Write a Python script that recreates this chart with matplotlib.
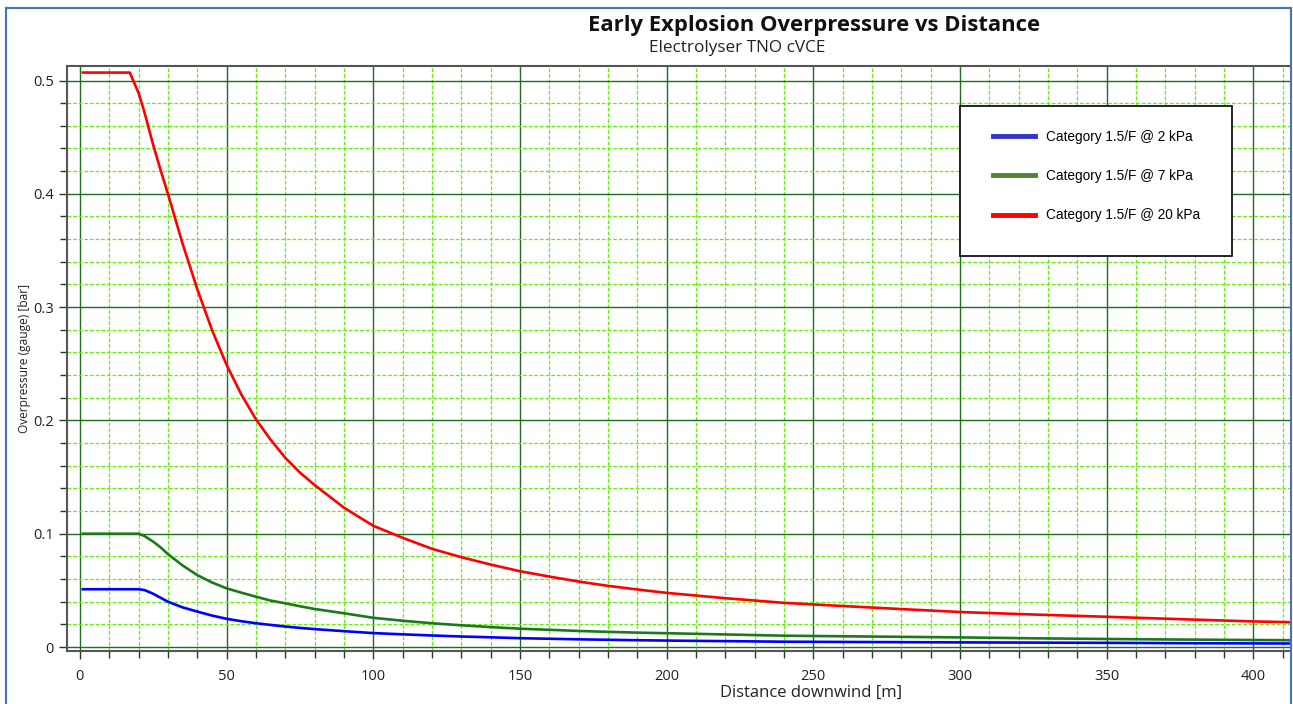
import matplotlib.pyplot as plt
from matplotlib.lines import Line2D
from matplotlib.patches import Rectangle
from matplotlib.ticker import MultipleLocator

plt.rcParams['font.family'] = ['Open Sans', 'DejaVu Sans']

# distance downwind [m]
distance = [1, 17, 20, 22, 25, 27.5, 30, 35, 40, 45, 50, 55, 60, 65, 70, 75, 80, 90,
            100, 110, 120, 130, 140, 150, 160, 170, 180, 190, 200, 220, 240,
            260, 280, 300, 325, 350, 375, 400, 413]

# overpressure [bar]
p_2kpa = [0.051, 0.051, 0.051, 0.0503, 0.047, 0.0435, 0.040, 0.035, 0.0313, 0.0278,
          0.0249, 0.0228, 0.021, 0.0195, 0.0181, 0.0169, 0.0158, 0.014, 0.0123, 0.0112,
          0.0102, 0.0093, 0.0086, 0.0078, 0.0073, 0.0068, 0.0064, 0.006, 0.0057, 0.0052,
          0.0047, 0.0045, 0.0043, 0.0041, 0.0039, 0.0037, 0.0034, 0.0032, 0.0031]
p_7kpa = [0.1, 0.1, 0.1, 0.098, 0.093, 0.088, 0.082, 0.072, 0.0635, 0.057,
          0.0518, 0.048, 0.0444, 0.041, 0.0386, 0.036, 0.0336, 0.0298, 0.0258, 0.0232,
          0.021, 0.0192, 0.0176, 0.0162, 0.0152, 0.0142, 0.0134, 0.0127, 0.0122, 0.0111,
          0.0100, 0.0095, 0.009, 0.0085, 0.0077, 0.0071, 0.0066, 0.0062, 0.006]
p_20kpa = [0.507, 0.507, 0.489, 0.472, 0.443, 0.421, 0.40, 0.356, 0.316, 0.28,
           0.249, 0.223, 0.201, 0.183, 0.167, 0.154, 0.143, 0.123, 0.107, 0.0964,
           0.0867, 0.0793, 0.0728, 0.0669, 0.0622, 0.0578, 0.054, 0.0508, 0.0478, 0.0431,
           0.039, 0.0362, 0.0335, 0.0309, 0.0287, 0.0267, 0.0246, 0.0226, 0.0219]

labels = ['Category 1.5/F @ 2 kPa', 'Category 1.5/F @ 7 kPa', 'Category 1.5/F @ 20 kPa']

W, H = 1293, 704
fig = plt.figure(figsize=(W / 100, H / 100), dpi=100)
ax = fig.add_axes([67 / W, 1 - 651 / H, (1290 - 67) / W, (651 - 66) / H])

ax.plot(distance, p_2kpa, color='#0000ff', lw=1.9, zorder=5)
ax.plot(distance, p_7kpa, color='#1a7a1a', lw=1.9, zorder=5)
ax.plot(distance, p_20kpa, color='#ff0000', lw=1.9, zorder=5)

ax.set_xlim(-4.4, 412.5)
ax.set_ylim(-0.0035, 0.5128)
ax.xaxis.set_major_locator(MultipleLocator(50))
ax.xaxis.set_minor_locator(MultipleLocator(10))
ax.yaxis.set_major_locator(MultipleLocator(0.1))
ax.yaxis.set_minor_locator(MultipleLocator(0.02))
ax.yaxis.set_major_formatter(lambda v, p: '0' if abs(v) < 1e-9 else f'{v:.1f}')

ax.grid(which='minor', color='#66ee11', linestyle=(0, (3, 1.5)), lw=0.9)
ax.grid(which='major', color='#1e6e1e', linestyle='-', lw=1.0)
ax.set_axisbelow(True)

ax.spines['right'].set_visible(False)
for s in ['left', 'bottom', 'top']:
    ax.spines[s].set_color('#555555')
    ax.spines[s].set_linewidth(1.5)

ax.tick_params(which='both', direction='out', color='#333333', width=1, labelsize=10.5,
               labelcolor='#222222')
ax.tick_params(which='major', length=6)
ax.tick_params(which='minor', length=5)
ax.tick_params(axis='x', pad=7)

fig.text(814 / W, 1 - 25 / H, 'Early Explosion Overpressure vs Distance', ha='center',
         va='center', fontsize=15.8, fontweight='bold', color='#111111')
fig.text(737 / W, 1 - 48 / H, 'Electrolyser TNO cVCE', ha='center', va='center',
         fontsize=12.3, color='#222222')
fig.text(811 / W, 1 - 693 / H, 'Distance downwind [m]', ha='center', va='center',
         fontsize=12, color='#222222')
fig.text(25 / W, 1 - 358 / H, 'Overpressure (gauge) [bar]', ha='center', va='center',
         rotation=90, fontsize=8.6, color='#222222')

# legend box
fig.add_artist(Rectangle((960 / W, 1 - 256 / H), 272 / W, 150 / H, transform=fig.transFigure,
                         facecolor='white', edgecolor='black', lw=1.2, zorder=10))
handles = [Line2D([], [], color=c, lw=3.5) for c in ['#3333cc', '#548235', '#ff0000']]
leg = fig.legend(handles, labels, loc='upper left', bbox_to_anchor=(993 / W, 1 - 130 / H),
                 frameon=False, borderpad=0, borderaxespad=0, handlelength=3.1,
                 handletextpad=0.8, labelspacing=1.85,
                 prop={'family': 'Liberation Sans', 'size': 9.8})
leg.set_zorder(11)

# window border
for xs, ys in [([6, 6], [0, 696]), ([6, 1291], [696, 696]), ([1291, 1291], [0, 696])]:
    fig.add_artist(Line2D([x / W for x in xs], [y / H for y in ys], color='#4472c4', lw=1.5))

fig.savefig('out.png', dpi=100)
